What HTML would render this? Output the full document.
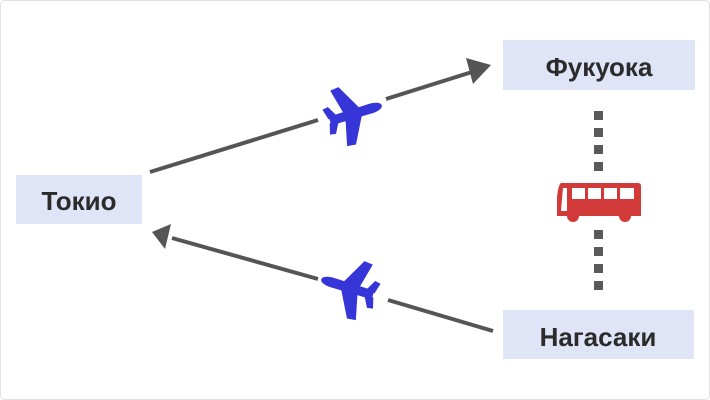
<!DOCTYPE html>
<html><head><meta charset="utf-8"><style>
html,body{margin:0;padding:0;background:#fff}
svg{display:block}
text{font-family:"Liberation Sans",sans-serif;font-weight:bold;fill:#2b2b2b}
</style></head><body>
<svg width="710" height="400" viewBox="0 0 710 400" xmlns="http://www.w3.org/2000/svg">
<defs>
<g id="plane">
<path d="M-24,-4.5 L20,-5 Q30,-4 30,0 Q30,4 20,5 L-24,4.5 Z" fill="#3535d8"/>
<path d="M8,-4 L-6,-30 L-15,-29 L-9,-4 Z" fill="#3535d8"/>
<path d="M8,4 L-6,30 L-15,29 L-9,4 Z" fill="#3535d8"/>
<path d="M-16,-3 L-22,-14 L-28,-13 L-25,-2 Z" fill="#3535d8"/>
<path d="M-16,3 L-22,14 L-28,13 L-25,2 Z" fill="#3535d8"/>
</g>
</defs>
<rect x="0.5" y="0.5" width="709" height="399" rx="4" fill="#fff" stroke="#e2e2e2"/>
<rect x="16" y="175" width="126" height="49" fill="#dfe4f6"/>
<text x="79" y="210" font-size="26" text-anchor="middle">Токио</text>
<rect x="503" y="40" width="192" height="50" fill="#dfe4f6"/>
<text x="599" y="76" font-size="26" text-anchor="middle">Фукуока</text>
<rect x="503" y="310" width="191" height="49" fill="#dfe4f6"/>
<text x="598" y="346" font-size="26" text-anchor="middle">Нагасаки</text>
<line x1="150" y1="172" x2="318" y2="120" stroke="#555" stroke-width="4"/>
<line x1="386" y1="99" x2="472" y2="72" stroke="#555" stroke-width="4"/>
<polygon points="491,65 466,58 473,84" fill="#555"/>
<g transform="translate(353,114) rotate(-17)"><use href="#plane"/></g>
<line x1="493" y1="331" x2="388" y2="300" stroke="#555" stroke-width="4"/>
<line x1="318" y1="279" x2="172" y2="238" stroke="#555" stroke-width="4"/>
<polygon points="152,232 171,224 165,249" fill="#555"/>
<g transform="translate(350,288) rotate(197)"><use href="#plane"/></g>
<g fill="#5a5a5a">
<rect x="594" y="111" width="9" height="9"/><rect x="594" y="128" width="9" height="9"/>
<rect x="594" y="145" width="9" height="9"/><rect x="594" y="162" width="9" height="9"/>
<rect x="594" y="230" width="9" height="9"/><rect x="594" y="247" width="9" height="9"/>
<rect x="594" y="264" width="9" height="9"/><rect x="594" y="281" width="9" height="9"/>
</g>
<g fill="#d23a3a">
<path d="M561,183 L638,183 Q641,183 641,186 L641,216 L557,216 L557,198 Q558,185 561,183 Z"/>
<circle cx="573" cy="216" r="6"/><circle cx="625" cy="216" r="6"/>
</g>
<g fill="#fff">
<path d="M563,188 L567,188 L567,211 L561,211 Z"/>
<rect x="572" y="188" width="13" height="11"/><rect x="588" y="188" width="13" height="11"/>
<rect x="604" y="188" width="13" height="11"/><rect x="620" y="188" width="14" height="11"/>
</g>
</svg>
</body></html>
